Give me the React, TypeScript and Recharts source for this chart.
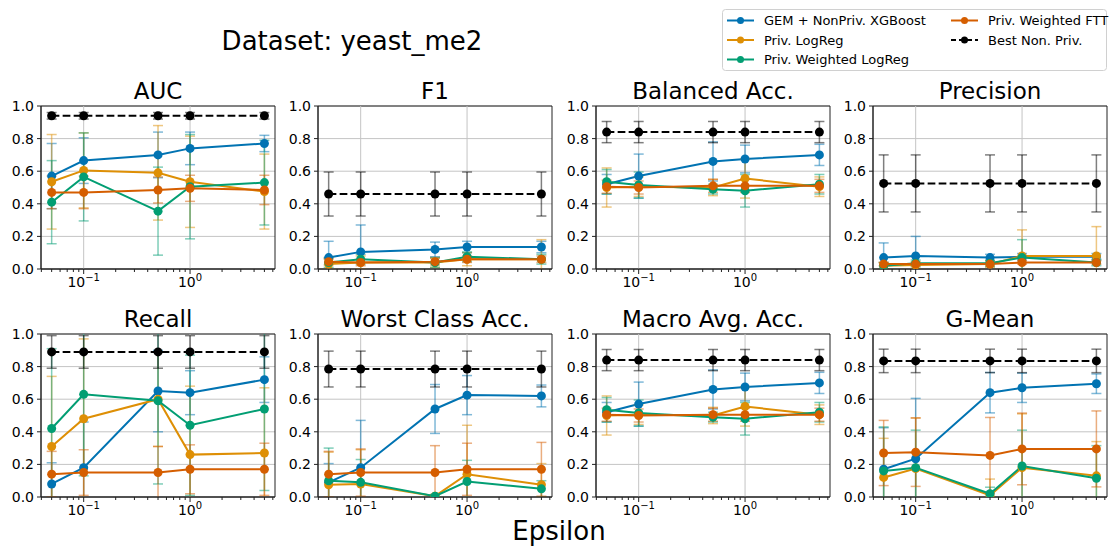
import { LineChart, Line, XAxis, YAxis, CartesianGrid, ErrorBar, ReferenceLine, ReferenceArea } from "recharts"

const EPSILONS = [0.05, 0.1, 0.5, 1, 5]
const X_DOMAIN = [0.0397, 6.29]
const MAJOR_TICKS = [0.1, 1]
const MAJOR_EXPONENTS = ["−1", "0"]
const MINOR_TICKS = [0.04, 0.05, 0.06, 0.07, 0.08, 0.09, 0.2, 0.3, 0.4, 0.5, 0.6, 0.7, 0.8, 0.9, 2, 3, 4, 5, 6]
const Y_TICKS = [0, 0.2, 0.4, 0.6, 0.8, 1]

// one small table per metric: mean and std per epsilon
const auc = {
  gem: [0.57, 0.665, 0.7, 0.74, 0.77],
  gemErr: [0.2, 0.14, 0.14, 0.1, 0.05],
  logreg: [0.535, 0.605, 0.59, 0.535, 0.475],
  logregErr: [0.29, 0.23, 0.29, 0.28, 0.23],
  wlogreg: [0.41, 0.565, 0.355, 0.505, 0.53],
  wlogregErr: [0.255, 0.27, 0.27, 0.32, 0.26],
  ftt: [0.47, 0.47, 0.485, 0.495, 0.485],
  fttErr: [0.1, 0.1, 0.08, 0.08, 0.09],
  best: [0.94, 0.94, 0.94, 0.94, 0.94],
  bestErr: [0.02, 0.02, 0.02, 0.02, 0.02],
}

const f1 = {
  gem: [0.07, 0.105, 0.12, 0.135, 0.135],
  gemErr: [0.1, 0.165, 0.045, 0.035, 0.035],
  logreg: [0.03, 0.04, 0.04, 0.06, 0.06],
  logregErr: [0.03, 0.04, 0.03, 0.04, 0.12],
  wlogreg: [0.04, 0.06, 0.04, 0.075, 0.06],
  wlogregErr: [0.03, 0.03, 0.03, 0.03, 0.03],
  ftt: [0.045, 0.04, 0.045, 0.06, 0.06],
  fttErr: [0.02, 0.02, 0.02, 0.02, 0.02],
  best: [0.46, 0.46, 0.46, 0.46, 0.46],
  bestErr: [0.135, 0.135, 0.135, 0.135, 0.135],
}

const balancedAcc = {
  gem: [0.52, 0.57, 0.66, 0.675, 0.7],
  gemErr: [0.06, 0.135, 0.12, 0.085, 0.065],
  logreg: [0.5, 0.505, 0.5, 0.555, 0.505],
  logregErr: [0.12, 0.06, 0.05, 0.12, 0.06],
  wlogreg: [0.535, 0.515, 0.49, 0.48, 0.52],
  wlogregErr: [0.075, 0.08, 0.03, 0.1, 0.06],
  ftt: [0.505, 0.5, 0.51, 0.51, 0.51],
  fttErr: [0.04, 0.04, 0.04, 0.04, 0.04],
  best: [0.84, 0.84, 0.84, 0.84, 0.84],
  bestErr: [0.065, 0.065, 0.065, 0.065, 0.065],
}

const precision = {
  gem: [0.07, 0.08, 0.07, 0.075, 0.075],
  gemErr: [0.09, 0.12, 0.02, 0.02, 0.02],
  logreg: [0.02, 0.025, 0.03, 0.08, 0.08],
  logregErr: [0.02, 0.02, 0.02, 0.16, 0.18],
  wlogreg: [0.02, 0.035, 0.035, 0.07, 0.04],
  wlogregErr: [0.02, 0.02, 0.02, 0.11, 0.02],
  ftt: [0.03, 0.03, 0.03, 0.04, 0.04],
  fttErr: [0.01, 0.01, 0.01, 0.01, 0.01],
  best: [0.525, 0.525, 0.525, 0.525, 0.525],
  bestErr: [0.175, 0.175, 0.175, 0.175, 0.175],
}

const recall = {
  gem: [0.08, 0.18, 0.65, 0.64, 0.72],
  gemErr: [0.13, 0.28, 0.25, 0.135, 0.14],
  logreg: [0.31, 0.48, 0.6, 0.26, 0.27],
  logregErr: [0.43, 0.49, 0.29, 0.42, 0.4],
  wlogreg: [0.42, 0.63, 0.59, 0.44, 0.54],
  wlogregErr: [0.49, 0.5, 0.51, 0.43, 0.5],
  ftt: [0.14, 0.15, 0.15, 0.17, 0.17],
  fttErr: [0.14, 0.14, 0.16, 0.15, 0.16],
  best: [0.89, 0.89, 0.89, 0.89, 0.89],
  bestErr: [0.1, 0.1, 0.1, 0.1, 0.1],
}

const worstClassAcc = {
  gem: [0.09, 0.18, 0.54, 0.625, 0.62],
  gemErr: [0.115, 0.29, 0.15, 0.12, 0.067],
  logreg: [0.075, 0.08, 0.005, 0.14, 0.075],
  logregErr: [0.2, 0.21, 0.01, 0.3, 0.13],
  wlogreg: [0.1, 0.09, 0.005, 0.095, 0.05],
  wlogregErr: [0.2, 0.14, 0.01, 0.13, 0.05],
  ftt: [0.14, 0.15, 0.15, 0.17, 0.17],
  fttErr: [0.14, 0.145, 0.165, 0.16, 0.165],
  best: [0.785, 0.785, 0.785, 0.785, 0.785],
  bestErr: [0.11, 0.11, 0.11, 0.11, 0.11],
}

const macroAvgAcc = {
  gem: [0.52, 0.57, 0.66, 0.675, 0.7],
  gemErr: [0.06, 0.135, 0.12, 0.085, 0.065],
  logreg: [0.5, 0.505, 0.5, 0.555, 0.505],
  logregErr: [0.12, 0.06, 0.05, 0.12, 0.06],
  wlogreg: [0.535, 0.515, 0.49, 0.48, 0.52],
  wlogregErr: [0.075, 0.08, 0.03, 0.1, 0.06],
  ftt: [0.505, 0.5, 0.505, 0.505, 0.505],
  fttErr: [0.04, 0.04, 0.04, 0.04, 0.04],
  best: [0.84, 0.84, 0.84, 0.84, 0.84],
  bestErr: [0.065, 0.065, 0.065, 0.065, 0.065],
}

const gMean = {
  gem: [0.17, 0.235, 0.64, 0.67, 0.695],
  gemErr: [0.255, 0.37, 0.124, 0.09, 0.06],
  logreg: [0.12, 0.175, 0.01, 0.18, 0.13],
  logregErr: [0.24, 0.31, 0.1, 0.33, 0.21],
  wlogreg: [0.16, 0.18, 0.02, 0.19, 0.115],
  wlogregErr: [0.27, 0.23, 0.04, 0.22, 0.2],
  ftt: [0.27, 0.275, 0.255, 0.295, 0.295],
  fttErr: [0.2, 0.21, 0.233, 0.22, 0.233],
  best: [0.835, 0.835, 0.835, 0.835, 0.835],
  bestErr: [0.072, 0.072, 0.072, 0.072, 0.072],
}

const PANELS = [
  { title: "AUC", metric: auc },
  { title: "F1", metric: f1 },
  { title: "Balanced Acc.", metric: balancedAcc },
  { title: "Precision", metric: precision },
  { title: "Recall", metric: recall },
  { title: "Worst Class Acc.", metric: worstClassAcc },
  { title: "Macro Avg. Acc.", metric: macroAvgAcc },
  { title: "G-Mean", metric: gMean },
]

const SERIES = [
  { key: "gem", name: "GEM + NonPriv. XGBoost", color: "#0173b2", dashed: false },
  { key: "logreg", name: "Priv. LogReg", color: "#de8f05", dashed: false },
  { key: "wlogreg", name: "Priv. Weighted LogReg", color: "#029e73", dashed: false },
  { key: "ftt", name: "Priv. Weighted FTT", color: "#d55e00", dashed: false },
  { key: "best", name: "Best Non. Priv.", color: "#000000", dashed: true },
]

// layout
const COL_LEFTS = [41, 318, 596, 873]
const ROW_TOPS = [106, 334]
const PLOT_W = 234
const PLOT_H = 163
const M_LEFT = 40
const M_TOP = 8
const M_RIGHT = 8
const M_BOTTOM = 30
const FONT = "'DejaVu Sans', sans-serif"
const SPINE = "#222"

function buildRows(metric: any) {
  return EPSILONS.map((eps, i) => {
    const row: any = { eps }
    SERIES.forEach((s) => {
      row[s.key] = metric[s.key][i]
      row[s.key + "Err"] = metric[s.key + "Err"][i]
    })
    return row
  })
}

function XTick(props: any) {
  const { x, y, payload } = props
  const idx = MAJOR_TICKS.indexOf(payload.value)
  const major = idx >= 0
  return (
    <g>
      <line x1={x} x2={x} y1={y} y2={y + (major ? 5 : 3)} stroke={SPINE} strokeWidth={1} />
      {major && (
        <text x={x} y={y + 18} textAnchor="middle" fontSize={14} fill="#000" fontFamily={FONT}>
          10
          <tspan fontSize={10} dy={-6}>
            {MAJOR_EXPONENTS[idx]}
          </tspan>
        </text>
      )}
    </g>
  )
}

function Panel({ metric, left, top }: any) {
  const rows = buildRows(metric)
  return (
    <div style={{ position: "absolute", left: left - M_LEFT, top: top - M_TOP }}>
      <LineChart
        width={M_LEFT + PLOT_W + M_RIGHT}
        height={M_TOP + PLOT_H + M_BOTTOM}
        data={rows}
        margin={{ top: M_TOP, right: M_RIGHT, left: 0, bottom: 0 }}
      >
        <CartesianGrid vertical={false} stroke="#c4c4c4" strokeWidth={1} />
        {MAJOR_TICKS.map((t) => (
          <ReferenceLine key={t} x={t} stroke="#c4c4c4" strokeWidth={1} />
        ))}
        <XAxis
          dataKey="eps"
          type="number"
          scale="log"
          domain={X_DOMAIN}
          allowDataOverflow
          ticks={[...MINOR_TICKS, ...MAJOR_TICKS].sort((a, b) => a - b)}
          interval={0}
          tick={<XTick />}
          tickLine={false}
          tickSize={0}
          tickMargin={0}
          height={M_BOTTOM}
          axisLine={{ stroke: SPINE }}
        />
        <YAxis
          type="number"
          domain={[0, 1]}
          allowDataOverflow
          ticks={Y_TICKS}
          interval={0}
          tickFormatter={(v: number) => v.toFixed(1)}
          tick={{ fill: "#000", fontSize: 14, fontFamily: FONT }}
          tickSize={4}
          tickMargin={3}
          width={M_LEFT}
          axisLine={{ stroke: SPINE }}
          tickLine={{ stroke: SPINE }}
        />
        <ReferenceArea x1={X_DOMAIN[0]} x2={X_DOMAIN[1]} y1={0} y2={1} fill="none" stroke={SPINE} strokeWidth={1} />
        {SERIES.map((s) => (
          <Line
            key={s.key}
            type="linear"
            dataKey={s.key}
            stroke={s.color}
            strokeWidth={2}
            strokeDasharray={s.dashed ? "7.7 3.3" : undefined}
            dot={{ r: 4.5, fill: s.color, stroke: s.color, strokeWidth: 0 }}
            activeDot={false}
            isAnimationActive={false}
          >
            <ErrorBar
              dataKey={s.key + "Err"}
              direction="y"
              width={5}
              stroke={s.color}
              strokeOpacity={0.5}
              strokeWidth={1.5}
              isAnimationActive={false}
            />
          </Line>
        ))}
      </LineChart>
    </div>
  )
}

function LegendEntry({ s, x, y }: any) {
  return (
    <g>
      <line
        x1={x}
        x2={x + 27}
        y1={y}
        y2={y}
        stroke={s.color}
        strokeWidth={2}
        strokeDasharray={s.dashed ? "5 3" : undefined}
      />
      <circle cx={x + 13.5} cy={y} r={3.5} fill={s.color} />
      <text x={x + 37} y={y + 4.5} fontSize={13} fill="#000" fontFamily={FONT}>
        {s.name}
      </text>
    </g>
  )
}

export default function App() {
  const legendPos = [
    { x: 727, y: 20.5 },
    { x: 727, y: 40 },
    { x: 727, y: 59.5 },
    { x: 951, y: 20.5 },
    { x: 951, y: 40 },
  ]
  return (
    <div
      style={{
        position: "absolute",
        left: 0,
        top: 0,
        width: 1112,
        height: 548,
        background: "#fff",
        fontFamily: FONT,
        overflow: "hidden",
      }}
    >
      {/* error bars get clipped to the axes box, like matplotlib does */}
      <style>{`.recharts-errorBars, .recharts-errorBar { clip-path: url(#plotClip); }`}</style>
      <svg width={0} height={0} style={{ position: "absolute" }}>
        <defs>
          <clipPath id="plotClip" clipPathUnits="userSpaceOnUse">
            <rect x={M_LEFT} y={M_TOP} width={PLOT_W} height={PLOT_H} />
          </clipPath>
        </defs>
      </svg>
      {PANELS.map((p, i) => (
        <Panel key={p.title} metric={p.metric} left={COL_LEFTS[i % 4]} top={ROW_TOPS[Math.floor(i / 4)]} />
      ))}
      <svg
        width={1112}
        height={548}
        style={{ position: "absolute", left: 0, top: 0, pointerEvents: "none" }}
      >
        <text x={352} y={50} fontSize={26} textAnchor="middle" fill="#000" fontFamily={FONT}>
          Dataset: yeast_me2
        </text>
        {PANELS.map((p, i) => (
          <text
            key={p.title}
            x={COL_LEFTS[i % 4] + PLOT_W / 2}
            y={ROW_TOPS[Math.floor(i / 4)] - 7}
            fontSize={23}
            textAnchor="middle"
            fill="#000"
            fontFamily={FONT}
          >
            {p.title}
          </text>
        ))}
        <text x={559} y={540} fontSize={26} textAnchor="middle" fill="#000" fontFamily={FONT}>
          Epsilon
        </text>
        <rect x={722.5} y={9.5} width={384} height={61} rx={3} fill="#fff" fillOpacity={0.8} stroke="#d0d0d0" />
        {SERIES.map((s, i) => (
          <LegendEntry key={s.key} s={s} x={legendPos[i].x} y={legendPos[i].y} />
        ))}
      </svg>
    </div>
  )
}
